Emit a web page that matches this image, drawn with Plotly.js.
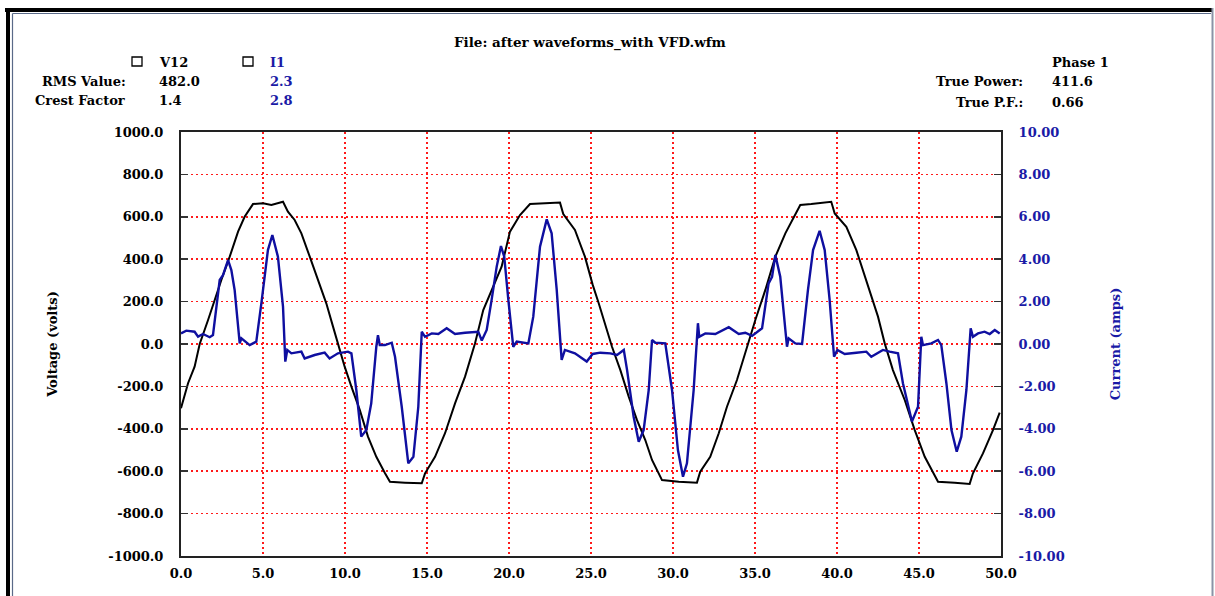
<!DOCTYPE html>
<html>
<head>
<meta charset="utf-8">
<script src="https://cdn.plot.ly/plotly-3.0.1.min.js"></script>
<style>
html,body{margin:0;padding:0;background:#fff;}
#chart{width:1215px;height:596px;}
</style>
</head>
<body>
<div id="chart"></div>
<script>
// ---- data (time in ms) ----
const timeV = [0,0.43,0.83,1.14,1.65,2.05,2.46,2.97,3.48,3.88,4.39,5.0,5.51,6.22,6.52,6.93,7.34,7.85,8.35,8.86,9.27,9.57,9.98,10.39,10.9,11.4,11.91,12.44,12.74,13.66,14.68,14.88,15.49,16.1,16.71,17.32,17.93,18.43,18.94,19.55,20.06,20.67,21.28,21.99,23.11,23.31,24.02,24.63,25.1,25.47,25.98,26.28,26.79,27.3,27.8,28.31,28.72,29.33,30.35,31.46,31.66,32.27,32.79,33.29,33.9,34.51,35.02,35.63,36.24,36.85,37.36,37.76,38.43,39.65,39.86,40.57,41.18,41.89,42.5,42.91,43.41,44.13,44.74,45.35,46.16,47.18,48.09,48.29,48.9,49.51,49.92];
const voltageV12 = [-303,-185,-107,0,113,208,302,412,530,600,660,664,656,671,624,585,522,412,302,192,82,0,-107,-201,-311,-437,-532,-610,-650,-654,-657,-610,-532,-421,-280,-154,3,160,255,365,530,608,660,664,667,613,538,412,280,192,66,-13,-123,-248,-358,-453,-547,-642,-650,-654,-602,-532,-421,-296,-170,-13,113,255,412,522,600,656,660,671,616,553,443,270,129,3,-123,-264,-406,-532,-650,-654,-660,-610,-516,-406,-324];

const timeI = [0,0.32,0.83,1.04,1.34,1.75,1.95,2.36,2.56,2.87,3.07,3.27,3.58,3.68,4.19,4.59,4.9,5.3,5.57,5.91,6.22,6.36,6.48,6.73,7.34,7.54,8.15,8.76,9.06,9.57,10.18,10.39,10.69,10.99,11.3,11.6,11.91,12.01,12.12,12.44,12.85,13.05,13.46,13.86,14.17,14.47,14.68,14.88,15.29,15.69,16.2,16.71,17.32,17.82,18.13,18.34,18.64,18.94,19.25,19.51,19.71,19.96,20.26,20.47,21.18,21.48,21.89,22.3,22.6,22.91,23.21,23.41,24.02,24.74,25.1,25.57,26.18,26.59,27.0,27.2,27.6,27.91,28.21,28.52,28.72,28.92,29.53,29.94,30.3,30.61,30.85,31.26,31.52,31.6,31.97,32.58,33.4,34.01,34.41,34.82,35.43,35.83,36.04,36.24,36.54,36.95,37.05,37.46,37.87,38.23,38.54,38.94,39.25,39.55,39.82,40.02,40.47,41.18,41.79,42.09,42.8,43.21,43.72,44.02,44.57,44.94,45.14,45.24,45.75,46.16,46.36,46.67,46.98,47.3,47.58,47.89,48.15,48.29,48.6,49.0,49.31,49.62,49.92];
const currentI1 = [0.50,0.63,0.58,0.35,0.47,0.32,0.42,3.02,3.25,3.96,3.49,2.55,0.03,0.27,-0.05,0.11,1.92,4.43,5.14,4.12,1.76,-0.83,-0.28,-0.44,-0.36,-0.68,-0.52,-0.41,-0.68,-0.44,-0.36,-0.44,-2.17,-4.37,-4.06,-2.80,-0.13,0.42,-0.05,-0.05,0.06,-0.60,-2.96,-5.63,-5.32,-2.96,0.58,0.34,0.50,0.47,0.74,0.47,0.53,0.58,0.58,0.16,0.66,2.08,3.65,4.62,4.12,2.08,-0.13,0.11,0.03,1.29,4.59,5.88,5.22,2.55,-0.75,-0.28,-0.44,-0.83,-0.47,-0.41,-0.44,-0.52,-0.28,-1.23,-3.43,-4.61,-4.06,-2.17,0.19,0.06,0.03,-2.17,-5.0,-6.26,-5.63,-2.17,0.98,0.34,0.50,0.47,0.79,0.47,0.53,0.38,0.74,2.86,3.17,4.20,3.17,-0.13,0.27,0.03,0.0,2.55,4.43,5.34,4.43,2.08,-0.60,-0.28,-0.47,-0.41,-0.36,-0.60,-0.28,-0.36,-0.44,-1.85,-3.66,-2.96,0.34,-0.05,0.03,0.19,-0.05,-1.85,-4.06,-5.08,-4.37,-2.17,0.74,0.34,0.50,0.58,0.47,0.66,0.50];

const xTickVals = [0,5,10,15,20,25,30,35,40,45,50];
const xTickText = ["0.0","5.0","10.0","15.0","20.0","25.0","30.0","35.0","40.0","45.0","50.0"];
const vTickVals = [1000,800,600,400,200,0,-200,-400,-600,-800,-1000];
const vTickText = ["1000.0","800.0","600.0","400.0","200.0","0.0","-200.0","-400.0","-600.0","-800.0","-1000.0"];
const iTickVals = [10,8,6,4,2,0,-2,-4,-6,-8,-10];
const iTickText = ["10.00","8.00","6.00","4.00","2.00","0.00","-2.00","-4.00","-6.00","-8.00","-10.00"];

const fileTitle = "File: after waveforms_with VFD.wfm";
const seriesNames = ["V12","I1"];
const rmsValues = ["482.0","2.3"];
const crestFactors = ["1.4","2.8"];
const phaseLabel = "Phase 1";
const truePower = "411.6";
const truePF = "0.66";

// ---- layout geometry (pixels) ----
const W = 1215, H = 596;
const L = 181, R = 1001, T = 132, B = 556;
const fx = px => (px - L) / (R - L);
const fy = py => (B - py) / (B - T);

const FONT = "DejaVu Serif";
const BLUE = "#1a1aa6";
const LINEBLUE = "#0f0fa0";
const GRIDRED = "#ff1a1a";

function ann(text, px, py, anchor, color, size) {
  return {text: text, xref: "paper", yref: "paper", x: fx(px), y: fy(py),
    xanchor: anchor, yanchor: "middle", showarrow: false,
    font: {family: FONT, size: size || 13, color: color || "#000", weight: "bold"}};
}

const annotations = [
  ann(fileTitle, 590, 43, "center", "#000", 13.5),
  ann(seriesNames[0], 157, 62, "left"),
  ann(seriesNames[1], 268, 62, "left", BLUE),
  ann("RMS Value:", 128, 82, "right", "#000", 13),
  ann(rmsValues[0], 157, 82, "left"),
  ann(rmsValues[1], 268, 82, "left", BLUE),
  ann("Crest Factor", 127, 101, "right", "#000", 13),
  ann(crestFactors[0], 157, 101, "left"),
  ann(crestFactors[1], 268, 101, "left", BLUE),
  ann(phaseLabel, 1050, 62, "left"),
  ann("True Power:", 1025, 82, "right", "#000", 13),
  ann(truePower, 1050, 82, "left"),
  ann("True P.F.:", 1025, 102, "right", "#000", 13),
  ann(truePF, 1050, 102, "left")
];

function rectPx(x0, y0, x1, y1, color, width) {
  return {type: "rect", xref: "paper", yref: "paper",
    x0: fx(x0), x1: fx(x1), y0: fy(y1), y1: fy(y0),
    line: {color: color, width: width}, fillcolor: "rgba(0,0,0,0)"};
}
function linePx(x0, y0, x1, y1, color, width) {
  return {type: "line", xref: "paper", yref: "paper",
    x0: fx(x0), x1: fx(x1), y0: fy(y0), y1: fy(y1),
    line: {color: color, width: width}};
}

const shapes = [
  // outer frame
  linePx(5, 10, 1213, 10, "#000", 4),
  linePx(8, 8, 8, 596, "#000", 4),
  linePx(12.5, 13.5, 1211, 13.5, "#5a6a88", 1.2),
  linePx(12.5, 13.5, 12.5, 596, "#5a6a88", 1.2),
  linePx(1212.5, 8, 1212.5, 596, "#8a93a6", 2),
  // legend boxes
  rectPx(132, 57, 142, 66, "#000", 1.3),
  rectPx(243, 57, 253, 66, "#000", 1.3)
];

const traces = [
  {x: timeI, y: currentI1, name: "I1", type: "scatter", mode: "lines", yaxis: "y2",
   line: {color: LINEBLUE, width: 2.4}, showlegend: false, hoverinfo: "skip"},
  {x: timeV, y: voltageV12, name: "V12", type: "scatter", mode: "lines",
   line: {color: "#000", width: 2}, showlegend: false, hoverinfo: "skip"}
];

const layout = {
  width: W, height: H,
  margin: {l: L, r: W - R, t: T, b: H - B, pad: 0},
  paper_bgcolor: "#fff", plot_bgcolor: "#fff",
  showlegend: false,
  xaxis: {
    range: [0, 50], tickvals: xTickVals, ticktext: xTickText,
    showline: true, linecolor: "#222", linewidth: 2, mirror: true,
    ticks: "", zeroline: false,
    showgrid: true, gridcolor: GRIDRED, gridwidth: 1.6, griddash: "2px,3px",
    tickfont: {family: FONT, size: 13, color: "#000", weight: "bold"},
    ticklabelstandoff: 4
  },
  yaxis: {
    range: [-1000, 1000], tickvals: vTickVals, ticktext: vTickText,
    showline: true, linecolor: "#222", linewidth: 2, mirror: true,
    ticks: "inside", ticklen: 7, tickwidth: 1.5, tickcolor: "#333",
    zeroline: false,
    showgrid: true, gridcolor: GRIDRED, gridwidth: 1.6, griddash: "2px,3px",
    tickfont: {family: FONT, size: 13, color: "#000", weight: "bold"},
    ticklabelstandoff: 13,
    title: {text: "Voltage (volts)", standoff: 48,
      font: {family: FONT, size: 13, color: "#000", weight: "bold"}}
  },
  yaxis2: {
    range: [-10, 10], tickvals: iTickVals, ticktext: iTickText,
    overlaying: "y", side: "right",
    showline: true, linecolor: "#222", linewidth: 2,
    ticks: "inside", ticklen: 7, tickwidth: 1.5, tickcolor: "#333",
    zeroline: false, showgrid: false,
    tickfont: {family: FONT, size: 13, color: BLUE, weight: "bold"},
    ticklabelstandoff: 13,
    title: {text: "Current (amps)", standoff: 47,
      font: {family: FONT, size: 13, color: BLUE, weight: "bold"}}
  },
  annotations: annotations,
  shapes: shapes
};

Plotly.newPlot("chart", traces, layout, {staticPlot: true, displayModeBar: false});
</script>
</body>
</html>
